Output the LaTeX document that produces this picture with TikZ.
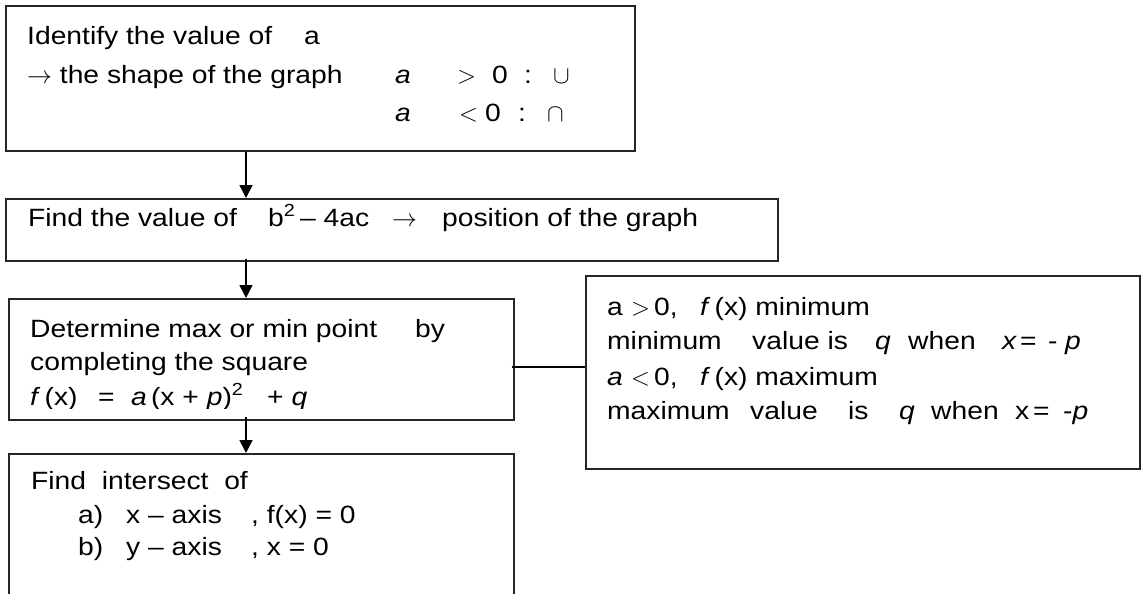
\documentclass[tikz,border=0pt]{standalone}
\usepackage{fontspec}
\setmainfont[FakeStretch=1.13]{Liberation Sans}
\usetikzlibrary{arrows.meta,calc}
\begin{document}
\begin{tikzpicture}[x=1pt,y=-1pt,
  box/.style={draw=black!85,line width=1.6pt,rectangle,inner sep=0pt,anchor=north west},
  arr/.style={line width=1.6pt,-{Triangle[length=13pt,width=13pt]}},
  link/.style={line width=1.6pt},
  txt/.style={anchor=base west,inner sep=0pt,font=\fontsize{25}{30}\selectfont}]
\clip (0,0) rectangle (1148,594);
\fill[white] (0,0) rectangle (1148,594);
% boxes
\node[box,minimum width=629pt,minimum height=145pt] (b1) at (5,5) {};
\node[box,minimum width=772pt,minimum height=62pt] (b2) at (5,198) {};
\node[box,minimum width=505pt,minimum height=121pt] (b3) at (8,298) {};
\node[box,minimum width=505pt,minimum height=300pt] (b4) at (8,453) {};
\node[box,minimum width=554pt,minimum height=193pt] (b5) at (585,275) {};
% connectors
\coordinate (ax) at (246,0);
\coordinate (cy) at (0,367);
\draw[arr] (ax |- b1.south) -- (ax |- b2.north);
\draw[arr] ($(ax |- b2.south)+(0,-3)$) -- (ax |- b3.north);
\draw[arr] ($(ax |- b3.south)+(0,-4)$) -- (ax |- b4.north);
\draw[link] ($(b3.east |- cy)+(-3,0)$) -- (b5.west |- cy);
% box 1 text
\node[txt] (t1a) at (27,45) {Identify the value of};
\node[txt] (t1b) at (304,45) {a};
\node[txt] (t2a) at (27,83) {$\rightarrow$\ the shape of the graph};
\node[txt] (t2b) at (395,83) {\textit{a}};
\node[txt] (t2c) at (457,83) {$>$};
\node[txt] (t2d) at (492,83) {0};
\node[txt] (t2e) at (524,83) {:};
\node[txt] (t2f) at (553,83) {$\cup$};
\node[txt] (t3b) at (395,121) {\textit{a}};
\node[txt] (t3c) at (459,121) {$<$};
\node[txt] (t3d) at (485,121) {0};
\node[txt] (t3e) at (518,121) {:};
\node[txt] (t3f) at (547,121) {$\cap$};
% box 2 text
\node[txt] (u1) at (28,226) {Find the value of};
\node[txt] (u2) at (268,226) {b\textsuperscript{2}};
\node[txt] (u3) at (300,226) {– 4ac};
\node[txt] (u4) at (392,226) {$\rightarrow$};
\node[txt] (u5) at (442,226) {position of the graph};
% box 3 text
\node[txt] (v1) at (30,337) {Determine max or min point};
\node[txt] (v2) at (415,337) {by};
\node[txt] (v3) at (30,370) {completing the square};
\begin{scope}
\clip (0,0) rectangle (520,408);
\node[txt] (v4) at (30,405) {\textit{f}\,(x)};
\node[txt] (v5) at (98,405) {=};
\node[txt] (v6) at (131,405) {\textit{a}\,(x + \textit{p})\textsuperscript{2}};
\node[txt] (v7) at (267,405) {+ \textit{q}};
\end{scope}
% right box text
\node[txt] (w1) at (607,315) {a};
\node[txt] (w2) at (631,315) {$>$};
\node[txt] (w3) at (654,315) {0,};
\node[txt] (w4) at (700,315) {\textit{f}\,(x) minimum};
\node[txt] (w5) at (607,349) {minimum};
\node[txt] (w6) at (752,349) {value is};
\node[txt] (w7) at (875,349) {\textit{q}};
\node[txt] (w8) at (908,349) {when};
\node[txt] (w9) at (1002,349) {\textit{x}};
\node[txt] (w10) at (1020,349) {=};
\node[txt] (w11) at (1048,349) {-};
\node[txt] (w12) at (1065,349) {\textit{p}};
\node[txt] (w13) at (607,385) {\textit{a}};
\node[txt] (w14) at (631,385) {$<$};
\node[txt] (w15) at (654,385) {0,};
\node[txt] (w16) at (700,385) {\textit{f}\,(x) maximum};
\node[txt] (w17) at (607,419) {maximum};
\node[txt] (w18) at (750,419) {value};
\node[txt] (w19) at (848,419) {is};
\node[txt] (w20) at (899,419) {\textit{q}};
\node[txt] (w21) at (931,419) {when};
\node[txt] (w22) at (1015,419) {x};
\node[txt] (w23) at (1033,419) {=};
\node[txt] (w24) at (1063,419) {-\textit{p}};
% box 4 text
\node[txt] (z1) at (31,489) {Find\ \ intersect\ \ of};
\node[txt] (z2) at (78,523) {a)};
\node[txt] (z3) at (126,523) {x – axis};
\node[txt] (z4) at (251,523) {, f(x) = 0};
\node[txt] (z5) at (78,555) {b)};
\node[txt] (z6) at (126,555) {y – axis};
\node[txt] (z7) at (251,555) {, x = 0};
\end{tikzpicture}
\end{document}
